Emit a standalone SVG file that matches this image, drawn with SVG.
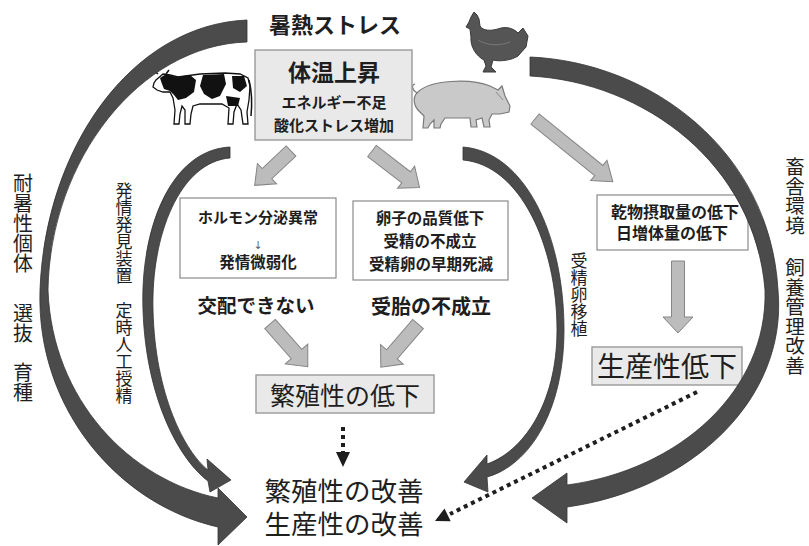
<svg xmlns="http://www.w3.org/2000/svg" width="809" height="546" viewBox="0 0 809 546">
  <style>
    .t { font-family: "Noto Sans CJK JP", "Noto Sans", sans-serif; fill: #1e1e1e; }
    .b { font-weight: 700; }
    .m { text-anchor: middle; }
    .v { writing-mode: vertical-rl; font-family: "Noto Sans CJK JP", "Noto Sans", sans-serif; fill: #1e1e1e; }
    .box { fill: #ffffff; stroke: #8a8a8a; stroke-width: 1.2; }
    .gbox { fill: #e9e9e9; stroke: #999999; stroke-width: 1.4; }
    .arc { fill: #4b4b4b; stroke: #333333; stroke-width: 0.8; }
    .blk { fill: #bcbcbc; stroke: #858585; stroke-width: 1; }
    .dot { fill: none; stroke: #1e1e1e; stroke-width: 4; stroke-dasharray: 4 4; }
    .small-arrow { font-family: "DejaVu Sans", sans-serif; fill: #666666; text-anchor: middle; }
  </style>

  <!-- heat stress title -->
  <g id="title">
    <text class="t b m" x="335" y="33" font-size="22">暑熱ストレス</text>
  </g>

  <!-- animals -->
  <g id="cow">
    <path d="M156,80 L163,74 L170,75 L178,77 L200,74 L225,73 L240,74 L248,78 L250,86 L249,100 L247,112 L248,124 L243,124 L241,110 L237,104 L234,112 L233,124 L228,124 L229,108 L222,104 L200,104 L193,106 L191,114 L190,124 L185,124 L185,110 L182,106 L180,114 L179,124 L174,124 L175,110 L173,98 L170,92 L163,92 L157,90 L153,87 L154,83 Z" fill="#ffffff" stroke="#111" stroke-width="1.3"/>
    <path d="M160,78 L166,74 L176,77 L190,75 L196,80 L194,92 L186,98 L178,100 L174,95 L170,91 L164,89 L162,84 Z" fill="#111"/>
    <path d="M203,75 L224,74 L226,84 L220,96 L212,99 L204,94 L200,86 Z" fill="#111"/>
    <path d="M232,76 L244,76 L247,86 L240,92 L233,88 Z" fill="#111"/>
    <path d="M226,96 L240,98 L238,106 L228,106 Z" fill="#111"/>
    <path d="M249,80 Q253,96 251,116" fill="none" stroke="#111" stroke-width="1.5"/>
    <path d="M158,74 L154,71 M166,74 L169,70" stroke="#111" stroke-width="1.5"/>
  </g>

  <g id="pig">
    <path d="M418,92 C430,80 470,78 490,86 L498,90 L502,86 L505,96 L510,106 L509,112 L500,114 L492,114 L489,120 L490,127 L484,127 L482,118 L476,120 L477,127 L471,127 L470,118 L445,118 L441,124 L440,128 L434,128 L434,120 L430,124 L428,128 L423,128 L424,116 L418,110 C413,104 413,96 418,92 Z" fill="#c9c9c9" stroke="#7a7a7a" stroke-width="1.2"/>
    <path d="M417,93 C412,90 411,85 415,84" fill="none" stroke="#7a7a7a" stroke-width="1.2"/>
    <path d="M496,92 L503,100" stroke="#8a8a8a" stroke-width="1"/>
  </g>

  <g id="chicken">
    <path d="M471,17 L474,12 L477,15 L479,19 L480,26 C483,31 490,31 498,29 C506,26 513,28 518,33 L523,28 L528,36 L526,47 L518,56 C512,60 500,62 493,60 L491,67 L496,72 L483,72 L486,66 L484,60 C476,56 470,46 471,37 L470,29 L466,27 L469,22 Z" fill="#555555" stroke="#3a3a3a" stroke-width="1"/>
    <path d="M478,40 C488,46 500,46 510,42" fill="none" stroke="#777" stroke-width="1"/>
  </g>

  <!-- central cause box -->
  <g id="node-temp">
    <rect class="gbox" x="255" y="50" width="157" height="90"/>
    <text class="t b m" x="334" y="81" font-size="23">体温上昇</text>
    <text class="t b m" x="334" y="108" font-size="15">エネルギー不足</text>
    <text class="t b m" x="334" y="131" font-size="15">酸化ストレス増加</text>
  </g>

  <g id="node-hormone">
    <rect class="box" x="180" y="198" width="156" height="80"/>
    <text class="t b m" x="258" y="223" font-size="15">ホルモン分泌異常</text>
    <text class="small-arrow" x="258" y="249" font-size="11">↓</text>
    <text class="t b m" x="258" y="268" font-size="15.5">発情微弱化</text>
  </g>

  <g id="node-embryo">
    <rect class="box" x="353" y="201" width="155" height="79"/>
    <text class="t b m" x="430" y="224" font-size="15.5">卵子の品質低下</text>
    <text class="t b m" x="430" y="247" font-size="15.5">受精の不成立</text>
    <text class="t b m" x="431" y="270" font-size="15.5">受精卵の早期死滅</text>
  </g>

  <g id="node-nomating">
    <text class="t b m" x="256" y="313" font-size="19.5">交配できない</text>
  </g>

  <g id="node-noconception">
    <text class="t b m" x="431" y="314" font-size="20">受胎の不成立</text>
  </g>

  <g id="node-fertility-down">
    <rect class="gbox" x="256" y="375" width="178" height="38"/>
    <text class="t m" x="345" y="405" font-size="25">繁殖性の低下</text>
  </g>

  <g id="node-intake">
    <rect class="box" x="597" y="195" width="151" height="55"/>
    <text class="t b m" x="675" y="218" font-size="16">乾物摂取量の低下</text>
    <text class="t b m" x="672" y="239" font-size="16">日増体量の低下</text>
  </g>

  <g id="node-productivity-down">
    <rect class="gbox" x="592" y="347" width="150" height="38"/>
    <text class="t m" x="667" y="377" font-size="28">生産性低下</text>
  </g>

  <g id="node-improve">
    <text class="t m" x="344" y="501" font-size="26.5">繁殖性の改善</text>
    <text class="t m" x="344" y="534" font-size="26.5">生産性の改善</text>
  </g>

  <!-- countermeasure labels -->
  <g id="label-breeding">
    <text class="v" x="23" y="173" font-size="20">耐暑性個体</text>
    <text class="v" x="23" y="303" font-size="20">選抜</text>
    <text class="v" x="23" y="362" font-size="20">育種</text>
  </g>
  <g id="label-ai">
    <text class="v" x="124" y="182" font-size="17">発情発見装置</text>
    <text class="v" x="124" y="302" font-size="17">定時人工授精</text>
  </g>
  <g id="label-et">
    <text class="v" x="579" y="252" font-size="17">受精卵移植</text>
  </g>
  <g id="label-housing">
    <text class="v" x="795" y="157" font-size="19.5">畜舎環境</text>
    <text class="v" x="795" y="258" font-size="19.5">飼養管理改善</text>
  </g>

  <!-- connectors -->
  <g id="connectors">
    <!-- countermeasure arcs -->
    <path class="arc" d="M247,20 C130,25 45,150 40,290 C36,410 120,505 218,527 L218,545 L247,517 L218,488 L218,498 C130,480 52,400 48,290 C50,160 140,45 247,42 Z"/>
    <path class="arc" d="M230,147 C170,150 140,230 143,310 C146,400 180,460 208,481 L210,492 L231,480 L207,459 L208,470 C185,452 155,395 153,310 C151,235 180,162 230,158 Z"/>
    <path class="arc" d="M463,147 C525,152 564,235 564,330 C564,410 530,465 487,477 L488,492 L464,482 L487,455 L487,464 C522,452 557,405 557,330 C557,245 520,165 463,160 Z"/>
    <path class="arc" d="M530,57 C650,62 770,150 778,290 C788,400 690,490 567,507 L567,523 L532,498 L567,473 L567,485 C680,470 768,390 765,290 C755,165 645,82 530,76 Z"/>

    <!-- causal block arrows -->
    <path class="blk" transform="translate(291,151) rotate(136.6)" d="M0,-7 H33 V-14 L50,0 L33,14 V7 H0 Z"/>
    <path class="blk" transform="translate(372,151) rotate(37.6)" d="M0,-7 H43 V-14 L60,0 L43,14 V7 H0 Z"/>
    <path class="blk" transform="translate(535,119) rotate(38.9)" d="M0,-6.5 H82 V-13 L100,0 L82,13 V6.5 H0 Z"/>
    <path class="blk" transform="translate(270,324) rotate(48.5)" d="M0,-7 H40 V-15 L57,0 L40,15 V7 H0 Z"/>
    <path class="blk" transform="translate(418,324) rotate(130.7)" d="M0,-7 H40 V-15 L57,0 L40,15 V7 H0 Z"/>
    <path class="blk" transform="translate(678,261) rotate(90)" d="M0,-6.5 H56 V-15 L72,0 L56,15 V6.5 H0 Z"/>

    <!-- dotted links -->
    <path class="dot" d="M343,427 V452"/>
    <path d="M336,452 H350 L343,467 Z" fill="#1e1e1e"/>
    <path class="dot" d="M697,392 L450,514"/>
    <path d="M435,521 L450.7,521.2 L444.5,508.6 Z" fill="#1e1e1e"/>
  </g>
</svg>
